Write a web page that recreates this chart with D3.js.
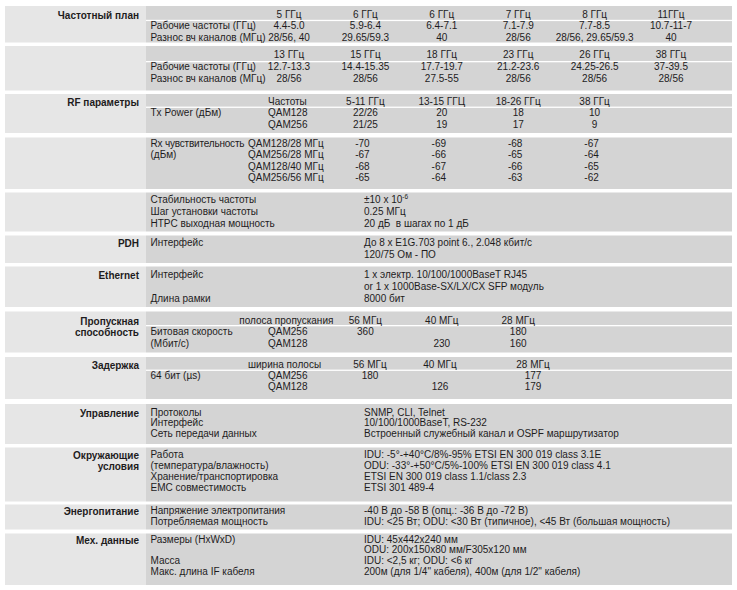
<!DOCTYPE html>
<html>
<head>
<meta charset="utf-8">
<script src="https://cdn.jsdelivr.net/npm/d3@7"></script>
<style>
    body { margin: 0; background: #fff; }
    svg text { font-family: "Liberation Sans", Arial, sans-serif; font-size: 10px; fill: #1e1c1d; white-space: pre; }
</style>
</head>
<body>
<script>
// --- data ---
const planBands1 = ["5 ГГц", "6 ГГц", "6 ГГц", "7 ГГц", "8 ГГц", "11ГГц"]
const planRanges1 = ["4.4-5.0", "5.9-6.4", "6.4-7.1", "7.1-7.9", "7.7-8.5", "10.7-11-7"]
const planSpacing1 = ["28/56, 40", "29.65/59.3", "40", "28/56", "28/56, 29.65/59.3", "40"]
const planBands2 = ["13 ГГц", "15 ГГц", "18 ГГц", "23 ГГц", "26 ГГц", "38 ГГц"]
const planRanges2 = ["12.7-13.3", "14.4-15.35", "17.7-19.7", "21.2-23.6", "24.25-26.5", "37-39.5"]
const planSpacing2 = ["28/56", "28/56", "27.5-55", "28/56", "28/56", "28/56"]

const rfBands = ["5-11 ГГц", "13-15 ГГЦ", "18-26 ГГц", "38 ГГц"]
const txPower128 = ["22/26", "20", "18", "10"]
const txPower256 = ["21/25", "19", "17", "9"]
const rxModes = ["QAM128/28 МГц", "QAM256/28 МГц", "QAM128/40 МГц", "QAM256/56 МГц"]
const rxSens = [
    [-70, -69, -68, -67],
    [-67, -66, -65, -64],
    [-68, -67, -66, -65],
    [-65, -64, -63, -62],
]

const bandwidths = ["56 МГц", "40 МГц", "28 МГц"]
const rate256 = [360, null, 180]
const rate128 = [null, 230, 160]
const delay256 = [180, null, 177]
const delay128 = [null, 126, 179]

const stabilityRows = [
    ["Стабильность частоты", "±10 x 10"],
    ["Шаг установки частоты", "0.25 МГц"],
    ["НТРС выходная мощность", "20 дБ  в шагах по 1 дБ"],
]
const stabilityExp = "-6"
const pdhRows = [
    ["Интерфейс", "До 8 x E1G.703 point 6., 2.048 кбит/с"],
    ["", "120/75 Ом - ПО"],
]
const ethRows = [
    ["Интерфейс", "1 x электр. 10/100/1000BaseT RJ45"],
    ["", "or 1 x 1000Base-SX/LX/CX SFP модуль"],
    ["Длина рамки", "8000 бит"],
]
const mgmtRows = [
    ["Протоколы", "SNMP, CLI, Telnet"],
    ["Интерфейс", "10/100/1000BaseT, RS-232"],
    ["Сеть передачи данных", "Встроенный служебный канал и OSPF маршрутизатор"],
]
const envRows = [
    ["Работа", "IDU: -5°-+40°C/8%-95% ETSI EN 300 019 class 3.1E"],
    ["(температура/влажность)", "ODU: -33°-+50°C/5%-100% ETSI EN 300 019 class 4.1"],
    ["Хранение/транспортировка", "ETSI EN 300 019 class 1.1/class 2.3"],
    ["EMC совместимость", "ETSI 301 489-4"],
]
const powerRows = [
    ["Напряжение электропитания", "-40 В до -58 В (опц.: -36 В до -72 В)"],
    ["Потребляемая мощность", "IDU: <25 Вт; ODU: <30 Вт (типичное), <45 Вт (большая мощность)"],
]
const mechRows = [
    ["Размеры (HxWxD)", "IDU: 45x442x240 мм"],
    ["", "ODU: 200x150x80 мм/F305x120 мм"],
    ["Масса", "IDU: <2,5 кг; ODU: <6 кг"],
    ["Макс. длина IF кабеля", "200м (для 1/4\" кабеля), 400м (для 1/2\" кабеля)"],
]

const sectionNames = [
    ["plan1", ["Частотный план"]],
    ["tx", ["RF параметры"]],
    ["pdh", ["PDH"]],
    ["eth", ["Ethernet"]],
    ["thr", ["Пропускная", "способность"]],
    ["delay", ["Задержка"]],
    ["mgmt", ["Управление"]],
    ["env", ["Окружающие", "условия"]],
    ["pwr", ["Энергопитание"]],
    ["mech", ["Мех. данные"]],
]

// --- layout ---
const width = 737
const height = 590
const x0 = 5
const xSplit = 146
const x1 = 732
const labelX = 139
const subX = 150.5
const modeX = 268
const rxModeX = 248
const valueX = 364

const blocks = [
    { id: "plan1", top: 6, bottom: 42.5, base: 17.5, step: 11.8, rule: 19.8 },
    { id: "plan2", top: 46, bottom: 90.5, base: 57.5, step: 12, rule: 61 },
    { id: "tx", top: 94, bottom: 133, base: 104.5, step: 11.8, rule: 106.6 },
    { id: "rx", top: 137.5, bottom: 189, base: 147, step: 11.4 },
    { id: "stab", top: 192.5, bottom: 231.5, base: 203, step: 11.8 },
    { id: "pdh", top: 235.5, bottom: 263, base: 245.5, step: 12 },
    { id: "eth", top: 266.5, bottom: 307, base: 277.5, step: 12 },
    { id: "thr", top: 311.5, bottom: 352.5, base: 323.5, step: 11.5, rule: 325 },
    { id: "delay", top: 357, bottom: 399, base: 368, step: 11.2, rule: 369.6 },
    { id: "mgmt", top: 404, bottom: 444, base: 415.5, step: 10.8 },
    { id: "env", top: 447.5, bottom: 501.5, base: 457.5, step: 11.1 },
    { id: "pwr", top: 504.5, bottom: 529.5, base: 513.5, step: 11.5 },
    { id: "mech", top: 533.5, bottom: 585, base: 542.5, step: 10.8 },
]
const block = new Map(blocks.map((b) => [b.id, b]))
const lineY = (id, i) => block.get(id).base + i * block.get(id).step

const col = d3.scalePoint().domain(d3.range(6)).range([289, 671])
const rfCol = d3.scalePoint().domain(rfBands).range([col(1), col(4)])
const bwCol = d3.scalePoint().domain(bandwidths).range([col(1), col(3)])
const delayCol = d3.scaleOrdinal().domain(bandwidths).range([370, 440, 533])

const svg = d3
    .select("body")
    .append("svg")
    .attr("width", width)
    .attr("height", height)

// backgrounds
const bg = svg.append("g")
bg.selectAll("rect.left")
    .data(blocks)
    .join("rect")
    .attr("x", x0)
    .attr("y", (d) => d.top)
    .attr("width", xSplit - x0)
    .attr("height", (d) => d.bottom - d.top)
    .attr("fill", "#e6e6e6")
bg.selectAll("rect.right")
    .data(blocks)
    .join("rect")
    .attr("x", xSplit)
    .attr("y", (d) => d.top)
    .attr("width", x1 - xSplit)
    .attr("height", (d) => d.bottom - d.top)
    .attr("fill", "#d4d4d4")
bg.selectAll("rect.rule")
    .data(blocks.filter((d) => d.rule))
    .join("rect")
    .attr("x", xSplit)
    .attr("y", (d) => d.rule)
    .attr("width", x1 - xSplit)
    .attr("height", 1.3)
    .attr("fill", "#fff")

const g = svg.append("g")

function put(id, i, x, s, anchor = "start") {
    if (s === null || s === undefined || s === "") return null
    return g
        .append("text")
        .attr("x", x)
        .attr("y", lineY(id, i))
        .attr("text-anchor", anchor)
        .text(s)
}

function cells(id, i, values, xs) {
    g.append("g")
        .selectAll("text")
        .data(values.map((v, j) => [v, j]).filter((d) => d[0] !== null))
        .join("text")
        .attr("x", (d) => xs(d[1]))
        .attr("y", lineY(id, i))
        .attr("text-anchor", "middle")
        .text((d) => d[0])
}

// section names
sectionNames.forEach(([id, lines]) => {
    lines.forEach((s, i) => {
        put(id, i, labelX, s, "end").attr("font-weight", "bold").attr("dy", 1)
    })
})

// frequency plan
;[
    ["plan1", planBands1, planRanges1, planSpacing1],
    ["plan2", planBands2, planRanges2, planSpacing2],
].forEach(([id, bands, ranges, spacing]) => {
    cells(id, 0, bands, col)
    put(id, 1, subX, "Рабочие частоты (ГГц)")
    cells(id, 1, ranges, col)
    put(id, 2, subX, "Разнос вч каналов (МГц)")
    cells(id, 2, spacing, col)
})

// RF Tx
const rf = (j) => rfCol(rfBands[j])
put("tx", 0, modeX, "Частоты")
cells("tx", 0, rfBands, rf)
put("tx", 1, subX, "Tx Power (дБм)")
put("tx", 1, modeX, "QAM128")
cells("tx", 1, txPower128, rf)
put("tx", 2, modeX, "QAM256")
cells("tx", 2, txPower256, rf)

// RF Rx
put("rx", 0, subX, "Rx чувствительность").attr("textLength", 94)
put("rx", 1, subX, "(дБм)")
rxModes.forEach((m, i) => {
    put("rx", i, rxModeX, m)
    cells("rx", i, rxSens[i], (j) => rf(j) - 3)
})

// simple label/value blocks
;[
    ["stab", stabilityRows],
    ["pdh", pdhRows],
    ["eth", ethRows],
    ["mgmt", mgmtRows],
    ["env", envRows],
    ["pwr", powerRows],
    ["mech", mechRows],
].forEach(([id, rows]) => {
    rows.forEach(([label, value], i) => {
        const t = put(id, i, valueX, value)
        put(id, i, subX, label)
        // exponent of the frequency stability
        if (id === "stab" && i === 0) {
            t.append("tspan").attr("dy", -4).attr("font-size", 6.5).text(stabilityExp)
        }
    })
})

// throughput
const bw = (j) => bwCol(bandwidths[j])
put("thr", 0, bw(0) - 32, "полоса пропускания", "end")
cells("thr", 0, bandwidths, bw)
put("thr", 1, subX, "Битовая скорость")
put("thr", 1, modeX, "QAM256")
cells("thr", 1, rate256, bw)
put("thr", 2, subX, "(Мбит/с)")
put("thr", 2, modeX, "QAM128")
cells("thr", 2, rate128, bw)

// delay
const dl = (j) => delayCol(bandwidths[j])
put("delay", 0, rxModeX, "ширина полосы")
cells("delay", 0, bandwidths, dl)
put("delay", 1, subX, "64 бит (µs)")
put("delay", 1, modeX, "QAM256")
cells("delay", 1, delay256, dl)
put("delay", 2, modeX, "QAM128")
cells("delay", 2, delay128, dl)
</script>
</body>
</html>
